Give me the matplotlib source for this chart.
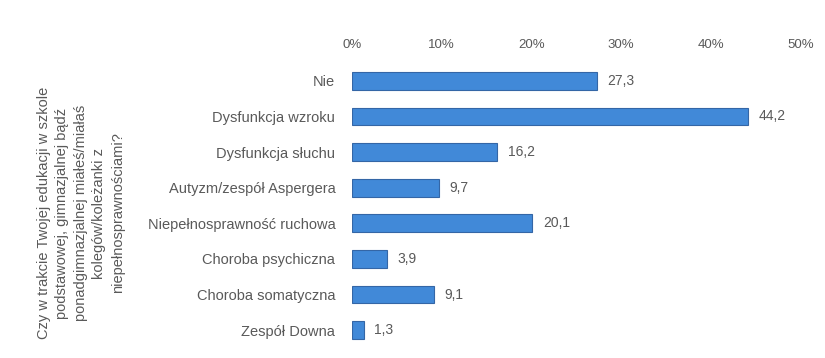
import matplotlib
matplotlib.use("Agg")
import matplotlib.pyplot as plt
from matplotlib.ticker import FuncFormatter

plt.rcParams["font.family"] = ["Liberation Sans", "DejaVu Sans"]

categories = [
    "Nie",
    "Dysfunkcja wzroku",
    "Dysfunkcja słuchu",
    "Autyzm/zespół Aspergera",
    "Niepełnosprawność ruchowa",
    "Choroba psychiczna",
    "Choroba somatyczna",
    "Zespół Downa",
]
values = [27.3, 44.2, 16.2, 9.7, 20.1, 3.9, 9.1, 1.3]
xticks = [0, 10, 20, 30, 40, 50]
question = ("Czy w trakcie Twojej edukacji w szkole\n"
            "podstawowej, gimnazjalnej bądź\n"
            "ponadgimnazjalnej miałeś/miałaś\n"
            "kolegów/koleżanki z\n"
            "niepełnosprawnościami?")

TEXT = "#595959"
BAR = "#4189d8"
EDGE = "#3466a6"

fig = plt.figure(figsize=(8.25, 3.58), dpi=100)
ax = fig.add_axes([0.4267, 0.028, 0.5433, 0.796])

ypos = list(range(len(categories)))
ax.barh(ypos, values, height=0.5, color=BAR, edgecolor=EDGE, linewidth=0.8)
for y, v in zip(ypos, values):
    ax.text(v + 1.2, y, f"{v:.1f}".replace(".", ","), va="center", ha="left",
            fontsize=10, color=TEXT)

ax.set_xlim(0, 50)
ax.set_ylim(len(categories) - 0.5, -0.5)
ax.set_xticks(xticks)
ax.xaxis.set_major_formatter(FuncFormatter(lambda x, _: f"{x:.0f}%"))
ax.xaxis.tick_top()
ax.set_yticks(ypos)
ax.set_yticklabels(categories)
ax.tick_params(axis="x", length=0, pad=9, labelsize=9.5, labelcolor=TEXT)
ax.tick_params(axis="y", length=0, pad=12, labelsize=10.5, labelcolor=TEXT)
for s in ax.spines.values():
    s.set_visible(False)

fig.text(0.098, 0.405, question, rotation=90, ha="center", va="center",
         multialignment="center", fontsize=10.5, color=TEXT, linespacing=1.4)

fig.savefig("out.png", dpi=100)
